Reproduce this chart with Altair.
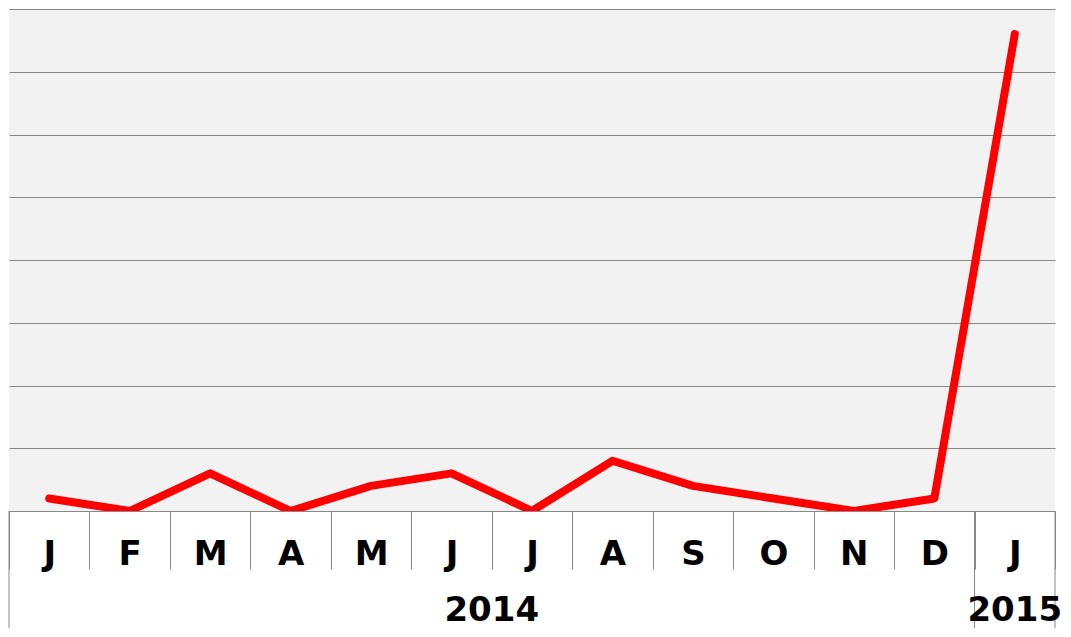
import altair as alt
import pandas as pd

months = ["J", "F", "M", "A", "M", "J", "J", "A", "S", "O", "N", "D", "J"]
values = [1, 0, 3, 0, 2, 3, 0, 4, 2, 1, 0, 1, 38]
years = ["2014", "2015"]
year_start = [0, 12]
year_end = [12, 13]

W = 1046
H = 502
GRAY = "#888888"
FONT = "DejaVu Sans"

df = pd.DataFrame({
    "pos": [i + 0.5 for i in range(len(months))],
    "month": months,
    "value": values,
})
ydf = pd.DataFrame({
    "year": years,
    "mid": [(s + e) / 2 for s, e in zip(year_start, year_end)],
})
bounds = sorted(set(year_start + year_end))
bdf = pd.DataFrame({"b": bounds})

n = len(months)
label_expr = "[" + ",".join("'" + m + "'" for m in months) + "][datum.value] || ''"

xscale = alt.Scale(domain=[0, n], nice=False, zero=False)

line = alt.Chart(df).mark_line(
    color="#ff0000", strokeWidth=8, strokeCap="round", strokeJoin="round", clip=True
).encode(
    x=alt.X("pos:Q", scale=xscale, title=None,
            axis=alt.Axis(values=list(range(n + 1)), grid=False, ticks=True,
                          tickSize=58, tickColor=GRAY, tickWidth=1,
                          domain=True, domainColor=GRAY, domainWidth=1,
                          labelExpr=label_expr, labelOffset=W / n / 2,
                          labelPadding=-5, labelBaseline="alphabetic",
                          labelFont=FONT, labelFontSize=34, labelFontWeight="bold",
                          labelColor="#000000", labelFlush=False, labelOverlap=False)),
    y=alt.Y("value:Q", scale=alt.Scale(domain=[0, 40], nice=False), title=None,
            axis=alt.Axis(values=list(range(0, 41, 5)), grid=True, gridColor=GRAY,
                          gridWidth=1, gridOpacity=1, labels=False, ticks=False,
                          domain=False)),
)

rules = alt.Chart(bdf).mark_rule(color=GRAY, strokeWidth=1).encode(
    x=alt.X("b:Q", scale=xscale),
    y=alt.value(H),
    y2=alt.value(H + 117),
)

year_text = alt.Chart(ydf).mark_text(
    font=FONT, fontSize=34, fontWeight="bold", color="#000000",
    baseline="alphabetic", align="center"
).encode(
    x=alt.X("mid:Q", scale=xscale),
    y=alt.value(H + 110),
    text="year:N",
)

chart = alt.layer(line, rules, year_text).properties(
    width=W, height=H,
    autosize=alt.AutoSizeParams(type="none"),
    padding={"left": 1, "top": 1, "right": 8, "bottom": 118},
).configure_view(fill="#f2f2f2", stroke=None)

chart.save("out.html", embed_options={"renderer": "svg", "actions": False})
